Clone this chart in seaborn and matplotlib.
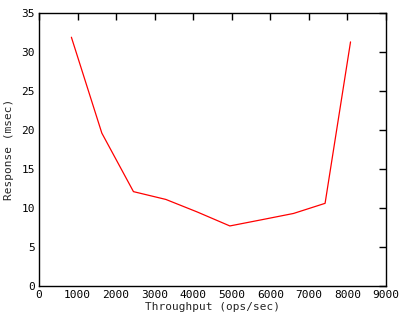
import pandas as pd
import matplotlib
matplotlib.use("Agg")
import matplotlib.pyplot as plt
import seaborn as sns

throughput = [840, 1630, 2450, 3290, 4100, 4950, 5780, 6600, 7420, 8080]
response = [31.9, 19.6, 12.1, 11.1, 9.5, 7.7, 8.5, 9.3, 10.6, 31.3]

data = pd.DataFrame({"throughput": throughput, "response": response})

sns.set_style("white")
plt.rcParams['font.family'] = ['DejaVu Sans Mono']

fig = plt.figure(figsize=(4, 3.2), dpi=100)
ax = fig.add_axes([0.0975, 0.10625, 0.8675, 0.853])
sns.lineplot(data=data, x="throughput", y="response", color="#ff0000",
             linewidth=0.9, ax=ax)

ax.set_xlim(0, 9000)
ax.set_ylim(0, 35)
ax.set_xticks(range(0, 9001, 1000))
ax.set_yticks(range(0, 36, 5))
ax.tick_params(direction="in", length=5, width=1, top=True, right=True,
               labelsize=8, colors="black", pad=3)
for s in ax.spines.values():
    s.set_color("black")
    s.set_linewidth(1)
ax.set_xlabel("Throughput (ops/sec)", fontsize=8, labelpad=1)
ax.set_ylabel("Response (msec)", fontsize=8, labelpad=5)

fig.savefig("out.png", dpi=100)
